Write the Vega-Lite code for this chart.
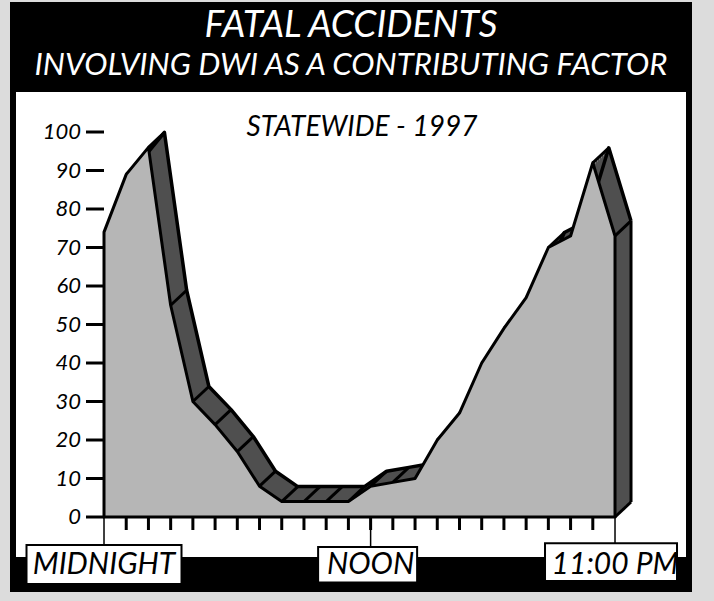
{
  "$schema": "https://vega.github.io/schema/vega-lite/v6.json",
  "background": "#dcdcdc",
  "padding": {"left": 10, "top": 2, "right": 22, "bottom": 9},
  "spacing": 0,
  "bounds": "flush",
  "datasets": {
    "hours": [
      {"hour": 0, "v": 74}, {"hour": 1, "v": 89}, {"hour": 2, "v": 96}, {"hour": 3, "v": 55},
      {"hour": 4, "v": 30}, {"hour": 5, "v": 24}, {"hour": 6, "v": 17}, {"hour": 7, "v": 8},
      {"hour": 8, "v": 4}, {"hour": 9, "v": 4}, {"hour": 10, "v": 4}, {"hour": 11, "v": 4},
      {"hour": 12, "v": 8}, {"hour": 13, "v": 9}, {"hour": 14, "v": 10}, {"hour": 15, "v": 20},
      {"hour": 16, "v": 27}, {"hour": 17, "v": 40}, {"hour": 18, "v": 49}, {"hour": 19, "v": 57},
      {"hour": 20, "v": 70}, {"hour": 21, "v": 73}, {"hour": 22, "v": 92}, {"hour": 23, "v": 73}
    ],
    "labels": [
      {"hour": 0, "label": "MIDNIGHT"},
      {"hour": 12, "label": "NOON"},
      {"hour": 23, "label": "11:00 PM"}
    ],
    "yticks": [
      {"value": 0}, {"value": 10}, {"value": 20}, {"value": 30}, {"value": 40}, {"value": 50},
      {"value": 60}, {"value": 70}, {"value": 80}, {"value": 90}, {"value": 100}
    ],
    "heading": [
      {"line": 1, "text": "FATAL ACCIDENTS"},
      {"line": 2, "text": "INVOLVING DWI AS A CONTRIBUTING FACTOR"}
    ]
  },
  "vconcat": [
    {
      "width": 676,
      "height": 84,
      "view": {"fill": "black", "stroke": "black", "strokeWidth": 6},
      "data": {"name": "heading"},
      "encoding": {
        "y": {"field": "line", "type": "ordinal", "axis": null, "scale": {"type": "point", "padding": 0.605, "domain": [1, 2]}},
        "text": {"field": "text"}
      },
      "layer": [
        {
          "transform": [{"filter": "datum.line == 1"}],
          "mark": {"type": "text", "color": "white", "font": "Lato", "fontStyle": "italic", "fontSize": 37, "baseline": "alphabetic", "align": "center", "dy": 9}
        },
        {
          "transform": [{"filter": "datum.line == 2"}],
          "mark": {"type": "text", "color": "white", "font": "Lato", "fontStyle": "italic", "fontSize": 31.2, "baseline": "alphabetic", "align": "center", "dy": 9}
        }
      ]
    },
    {
      "width": 676,
      "height": 500,
      "view": {"fill": "white", "stroke": "black", "strokeWidth": 6},
      "title": {
        "text": "STATEWIDE -  1997",
        "anchor": "middle",
        "frame": "group",
        "orient": "top",
        "offset": -75,
        "baseline": "alphabetic",
        "dx": 11,
        "font": "Lato",
        "fontSize": 28,
        "fontStyle": "italic",
        "fontWeight": "normal",
        "color": "black"
      },
      "layer": [
        {
          "data": {"values": [{"part": "bottom band"}]},
          "mark": {"type": "rect", "color": "black"},
          "encoding": {
            "y": {"datum": -10.39, "type": "quantitative", "scale": {"domain": [-18.7, 111.17], "nice": false, "zero": false}, "axis": null},
            "y2": {"datum": -18.7}
          }
        },
        {
          "data": {"name": "labels"},
          "mark": {"type": "rule", "stroke": "black", "strokeWidth": 1.5},
          "encoding": {
            "x": {"field": "hour", "type": "quantitative", "scale": {"domain": [-4.096, 26.33], "nice": false, "zero": false, "padding": 0}, "axis": null},
            "y": {"datum": 0, "type": "quantitative", "scale": {"domain": [-18.7, 111.17], "nice": false, "zero": false}, "axis": null},
            "y2": {"datum": -8.5}
          }
        },
        {
          "data": {"name": "yticks"},
          "mark": {"type": "rule", "stroke": "black", "strokeWidth": 3, "xOffset": -18},
          "encoding": {
            "x": {"datum": 0, "type": "quantitative", "scale": {"domain": [-4.096, 26.33], "nice": false, "zero": false, "padding": 0}, "axis": null},
            "x2": {"datum": 0},
            "y": {"field": "value", "type": "quantitative", "scale": {"domain": [-18.7, 111.17], "nice": false, "zero": false}, "axis": null}
          }
        },
        {
          "data": {"name": "yticks"},
          "mark": {"type": "text", "font": "Lato", "fontStyle": "italic", "fontSize": 22, "align": "right", "baseline": "middle", "dx": -23, "color": "black"},
          "encoding": {
            "x": {"datum": 0, "type": "quantitative", "scale": {"domain": [-4.096, 26.33], "nice": false, "zero": false, "padding": 0}, "axis": null},
            "y": {"field": "value", "type": "quantitative", "scale": {"domain": [-18.7, 111.17], "nice": false, "zero": false}, "axis": null},
            "text": {"field": "value", "type": "quantitative"}
          }
        },
        {
          "data": {"name": "hours"},
          "encoding": {
            "x": {"field": "hour", "type": "quantitative", "scale": {"domain": [-4.096, 26.33], "nice": false, "zero": false, "padding": 0}, "axis": null},
            "y": {"field": "v", "type": "quantitative", "scale": {"domain": [-18.7, 111.17], "nice": false, "zero": false}, "axis": null}
          },
          "layer": [
            {
              "transform": [{"filter": "datum.hour > 0 && datum.hour < 23"}],
              "mark": {"type": "rule", "stroke": "black", "strokeWidth": 3, "y2Offset": 13},
              "encoding": {
                "y": {"datum": 0, "type": "quantitative", "scale": {"domain": [-18.7, 111.17], "nice": false, "zero": false}, "axis": null},
                "y2": {"datum": 0}
              }
            },
            {"mark": {"type": "area", "fill": "#4f4f4f", "strokeWidth": 0, "xOffset": 2, "yOffset": -1.875, "y2Offset": -1.875}},
            {"mark": {"type": "area", "fill": "#4f4f4f", "strokeWidth": 0, "xOffset": 4, "yOffset": -3.75, "y2Offset": -3.75}},
            {"mark": {"type": "area", "fill": "#4f4f4f", "strokeWidth": 0, "xOffset": 6, "yOffset": -5.625, "y2Offset": -5.625}},
            {"mark": {"type": "area", "fill": "#4f4f4f", "strokeWidth": 0, "xOffset": 8, "yOffset": -7.5, "y2Offset": -7.5}},
            {"mark": {"type": "area", "fill": "#4f4f4f", "strokeWidth": 0, "xOffset": 10, "yOffset": -9.375, "y2Offset": -9.375}},
            {"mark": {"type": "area", "fill": "#4f4f4f", "strokeWidth": 0, "xOffset": 12, "yOffset": -11.25, "y2Offset": -11.25}},
            {"mark": {"type": "area", "fill": "#4f4f4f", "strokeWidth": 0, "xOffset": 14, "yOffset": -13.125, "y2Offset": -13.125}},
            {"mark": {"type": "area", "fill": "#4f4f4f", "strokeWidth": 0, "xOffset": 16, "yOffset": -15, "y2Offset": -15}},
            {"mark": {"type": "line", "stroke": "black", "strokeWidth": 3.5, "strokeJoin": "round", "xOffset": 16, "yOffset": -15}},
            {
              "transform": [{"filter": "datum.hour == 23"}],
              "mark": {"type": "rule", "stroke": "black", "strokeWidth": 3, "xOffset": 16, "yOffset": -15, "y2Offset": -15},
              "encoding": {"y2": {"datum": 0}}
            },
            {
              "transform": [{"filter": "datum.hour == 23"}],
              "mark": {"type": "rule", "stroke": "black", "strokeWidth": 3, "x2Offset": 16, "y2Offset": -15},
              "encoding": {
                "x2": {"field": "hour"},
                "y": {"datum": 0, "type": "quantitative", "scale": {"domain": [-18.7, 111.17], "nice": false, "zero": false}, "axis": null},
                "y2": {"datum": 0}
              }
            },
            {
              "mark": {"type": "rule", "stroke": "black", "strokeWidth": 3, "x2Offset": 16, "y2Offset": -15},
              "encoding": {"x2": {"field": "hour"}, "y2": {"field": "v"}}
            },
            {"mark": {"type": "area", "fill": "#b6b6b6", "stroke": "black", "strokeWidth": 3, "strokeJoin": "round"}}
          ]
        },
        {
          "data": {"name": "labels"},
          "transform": [{"filter": "datum.label == 'MIDNIGHT'"}],
          "mark": {"type": "bar", "fill": "white", "stroke": "black", "strokeWidth": 2, "orient": "vertical", "width": 155},
          "encoding": {
            "x": {"field": "hour", "type": "quantitative", "scale": {"domain": [-4.096, 26.33], "nice": false, "zero": false, "padding": 0}, "axis": null},
            "y": {"datum": -7.27, "type": "quantitative", "scale": {"domain": [-18.7, 111.17], "nice": false, "zero": false}, "axis": null},
            "y2": {"datum": -17.4}
          }
        },
        {
          "data": {"name": "labels"},
          "transform": [{"filter": "datum.label == 'NOON'"}],
          "mark": {"type": "bar", "fill": "white", "stroke": "black", "strokeWidth": 2, "orient": "vertical", "width": 99, "xOffset": -3},
          "encoding": {
            "x": {"field": "hour", "type": "quantitative", "scale": {"domain": [-4.096, 26.33], "nice": false, "zero": false, "padding": 0}, "axis": null},
            "y": {"datum": -7.8, "type": "quantitative", "scale": {"domain": [-18.7, 111.17], "nice": false, "zero": false}, "axis": null},
            "y2": {"datum": -17.0}
          }
        },
        {
          "data": {"name": "labels"},
          "transform": [{"filter": "datum.label == '11:00 PM'"}],
          "mark": {"type": "bar", "fill": "white", "stroke": "black", "strokeWidth": 2, "orient": "vertical", "width": 132, "xOffset": -4},
          "encoding": {
            "x": {"field": "hour", "type": "quantitative", "scale": {"domain": [-4.096, 26.33], "nice": false, "zero": false, "padding": 0}, "axis": null},
            "y": {"datum": -6.8, "type": "quantitative", "scale": {"domain": [-18.7, 111.17], "nice": false, "zero": false}, "axis": null},
            "y2": {"datum": -16.6}
          }
        },
        {
          "data": {"name": "labels"},
          "mark": {"type": "text", "font": "Lato", "fontStyle": "italic", "fontSize": 30, "baseline": "middle", "align": "center", "color": "black", "dy": 1},
          "encoding": {
            "x": {"field": "hour", "type": "quantitative", "scale": {"domain": [-4.096, 26.33], "nice": false, "zero": false, "padding": 0}, "axis": null},
            "y": {"datum": -12.2, "type": "quantitative", "scale": {"domain": [-18.7, 111.17], "nice": false, "zero": false}, "axis": null},
            "text": {"field": "label"}
          }
        }
      ]
    }
  ]
}
